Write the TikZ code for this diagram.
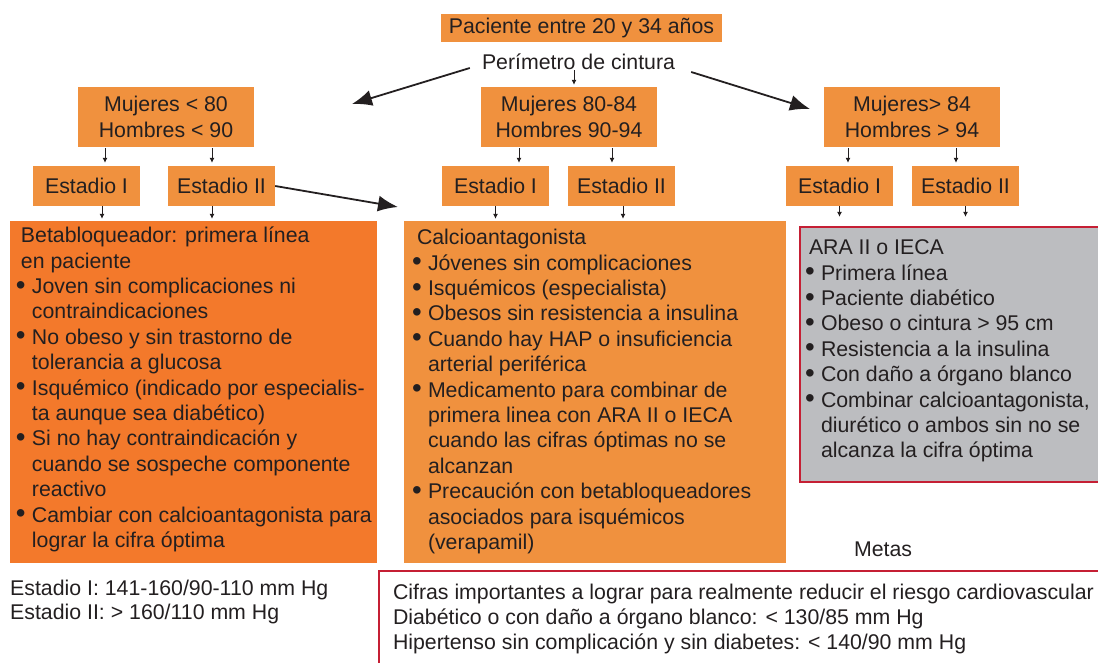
\documentclass[tikz,border=0pt]{standalone}
\usepackage{fontspec}
\setmainfont{Liberation Sans}
\usepackage{graphicx}
\usepackage{tikz}
\usetikzlibrary{arrows.meta,positioning}

\definecolor{naranja}{RGB}{240,145,62}
\definecolor{naranjaosc}{RGB}{243,121,43}
\definecolor{gris}{RGB}{188,189,192}
\definecolor{rojo}{RGB}{197,31,52}
\definecolor{texto}{RGB}{35,31,32}

\newcommand{\punto}{\makebox[16pt][l]{\raisebox{-0.5pt}{\scalebox{1.3}{\textbullet}}}}
\newcommand{\sangria}{\hspace*{16pt}}

\begin{document}
\begin{tikzpicture}[x=1pt,y=-1pt,on grid,
	every node/.style={font=\fontsize{21.3}{25.4}\selectfont, text=texto},
	caja/.style={fill=naranja, inner sep=0pt, align=center},
	grupo/.style={caja, minimum width=176pt, minimum height=60pt},
	estadio/.style={caja, minimum width=107pt, minimum height=40pt},
	lista/.style={align=left, inner sep=0pt, anchor=north west},
	flecha/.style={-{Latex[length=5pt,width=5pt]}, line width=0.8pt, color=texto},
	grande/.style={draw=texto, -{Latex[length=20pt,width=16pt]}, line width=1.8pt}]
	\useasboundingbox (0,0) rectangle (1098,663);

	\node [caja, minimum width=281pt, minimum height=28pt] (pac) at (581.5,28) {Paciente entre 20 y 34 años};
	\node [inner sep=0pt] (per) [below left=34pt and 3pt of pac] {Perímetro de cintura};

	\node [grupo] (m1) at (166,117) {Mujeres < 80\\Hombres < 90};
	\node [grupo] (m2) at (569,117) {Mujeres 80-84\\Hombres 90-94};
	\node [grupo] (m3) at (912,117) {Mujeres> 84\\Hombres > 94};

	\node [estadio] (e11) [below left=69pt and 79.5pt of m1] {Estadio I};
	\node [estadio] (e12) [below right=69pt and 55.5pt of m1] {Estadio II};
	\node [estadio] (e21) [below left=69pt and 73.5pt of m2] {Estadio I};
	\node [estadio] (e22) [below right=69pt and 52.5pt of m2] {Estadio II};
	\node [estadio] (e31) [below left=69pt and 72.5pt of m3] {Estadio I};
	\node [estadio] (e32) [below right=69pt and 53.5pt of m3] {Estadio II};

	% recuadros de tratamiento
	\node [caja, fill=naranjaosc, minimum width=367pt, minimum height=342pt] (lbox) at (193.5,392) {};
	\node [caja, minimum width=382pt, minimum height=342pt] (mbox) at (595,392) {};
	\node [caja, fill=gris, minimum width=298pt, minimum height=255pt] (rbox) at (949,354.5) {};
	\draw [rojo, line width=2pt] (rbox.north east) -- (rbox.north west) -- (rbox.south west) -- (rbox.south east);
	\node [inner sep=0pt, minimum width=719pt, minimum height=92pt] (cifras) at (738.5,617) {};
	\draw [rojo, line width=2pt] (cifras.south west) -- (cifras.north west) -- (cifras.north east);

	\node [lista] (ltxt) at ([shift={(6pt,-4pt)}]lbox.north west) {\strut\hspace*{5pt}Betabloqueador: primera línea\\
		\hspace*{5pt}en paciente\\
		\punto Joven sin complicaciones ni\\
		\sangria contraindicaciones\\
		\punto No obeso y sin trastorno de\\
		\sangria tolerancia a glucosa\\
		\punto Isquémico (indicado por especialis-\\
		\sangria ta aunque sea diabético)\\
		\punto Si no hay contraindicación y\\
		\sangria cuando se sospeche componente\\
		\sangria reactivo\\
		\punto Cambiar con calcioantagonista para\\
		\sangria lograr la cifra óptima};
	\node [lista] (mtxt) at ([shift={(8pt,-6pt)}]mbox.north west) {\strut\hspace*{5pt}Calcioantagonista\\
		\punto Jóvenes sin complicaciones\\
		\punto Isquémicos (especialista)\\
		\punto Obesos sin resistencia a insulina\\
		\punto Cuando hay HAP o insuficiencia\\
		\sangria arterial periférica\\
		\punto Medicamento para combinar de\\
		\sangria primera linea con ARA II o IECA\\
		\sangria cuando las cifras óptimas no se\\
		\sangria alcanzan\\
		\punto Precaución con betabloqueadores\\
		\sangria asociados para isquémicos\\
		\sangria (verapamil)};
	\node [lista] (rtxt) at ([shift={(5pt,-10pt)}]rbox.north west) {\strut\hspace*{4pt}ARA II o IECA\\
		\punto Primera línea\\
		\punto Paciente diabético\\
		\punto Obeso o cintura > 95 cm\\
		\punto Resistencia a la insulina\\
		\punto Con daño a órgano blanco\\
		\punto Combinar calcioantagonista,\\
		\sangria diurético o ambos sin no se\\
		\sangria alcanza la cifra óptima};

	\node [lista, font=\fontsize{21.3}{24}\selectfont] (estadios) at (10,578) {\strut Estadio I: 141-160/90-110 mm Hg\\
		Estadio II: > 160/110 mm Hg};
	\node (metas) at (883,549) {Metas};
	\node [lista, font=\fontsize{21.3}{25}\selectfont] (ctxt) at ([shift={(14pt,-11pt)}]cifras.north west) {\strut Cifras importantes a lograr para realmente reducir el riesgo cardiovascular\\
		Diabético o con daño a órgano blanco: < 130/85 mm Hg\\
		Hipertenso sin complicación y sin diabetes: < 140/90 mm Hg};

	\coordinate (pl) at (352,104);
	\coordinate (pr) at (810,109);
	\coordinate (pm) at (398,207);

	\draw [grande] ([shift={(-12pt,-6pt)}]per.west) -- (pl);
	\draw [grande] ([shift={(16pt,-10pt)}]per.east) -- (pr);
	\draw [grande] (e12.east) -- (pm);

	\path [flecha, shorten >=2pt]
		([xshift=-4.5pt]per.south) edge ([xshift=-4.5pt]per.south |- m2.north);
	\path [flecha, shorten <=1pt, shorten >=3pt]
		([xshift=18.5pt]e11.north |- m1.south) edge ([xshift=18.5pt]e11.north)
		([xshift=-9.5pt]e12.north |- m1.south) edge ([xshift=-9.5pt]e12.north)
		([xshift=23.5pt]e21.north |- m2.south) edge ([xshift=23.5pt]e21.north)
		([xshift=-9.5pt]e22.north |- m2.south) edge ([xshift=-9.5pt]e22.north)
		([xshift=8.5pt]e31.north |- m3.south) edge ([xshift=8.5pt]e31.north)
		([xshift=-9.5pt]e32.north |- m3.south) edge ([xshift=-9.5pt]e32.north);
	\path [flecha, shorten >=2pt]
		([xshift=15.5pt]e11.south) edge ([xshift=15.5pt]e11.south |- lbox.north)
		([xshift=-9.5pt]e12.south) edge ([xshift=-9.5pt]e12.south |- lbox.north)
		(e21.south) edge (e21.south |- mbox.north)
		([xshift=1.5pt]e22.south) edge ([xshift=1.5pt]e22.south |- mbox.north);
	\path [flecha, shorten >=10pt]
		(e31.south) edge (e31.south |- rbox.north)
		(e32.south) edge (e32.south |- rbox.north);
\end{tikzpicture}
\end{document}
